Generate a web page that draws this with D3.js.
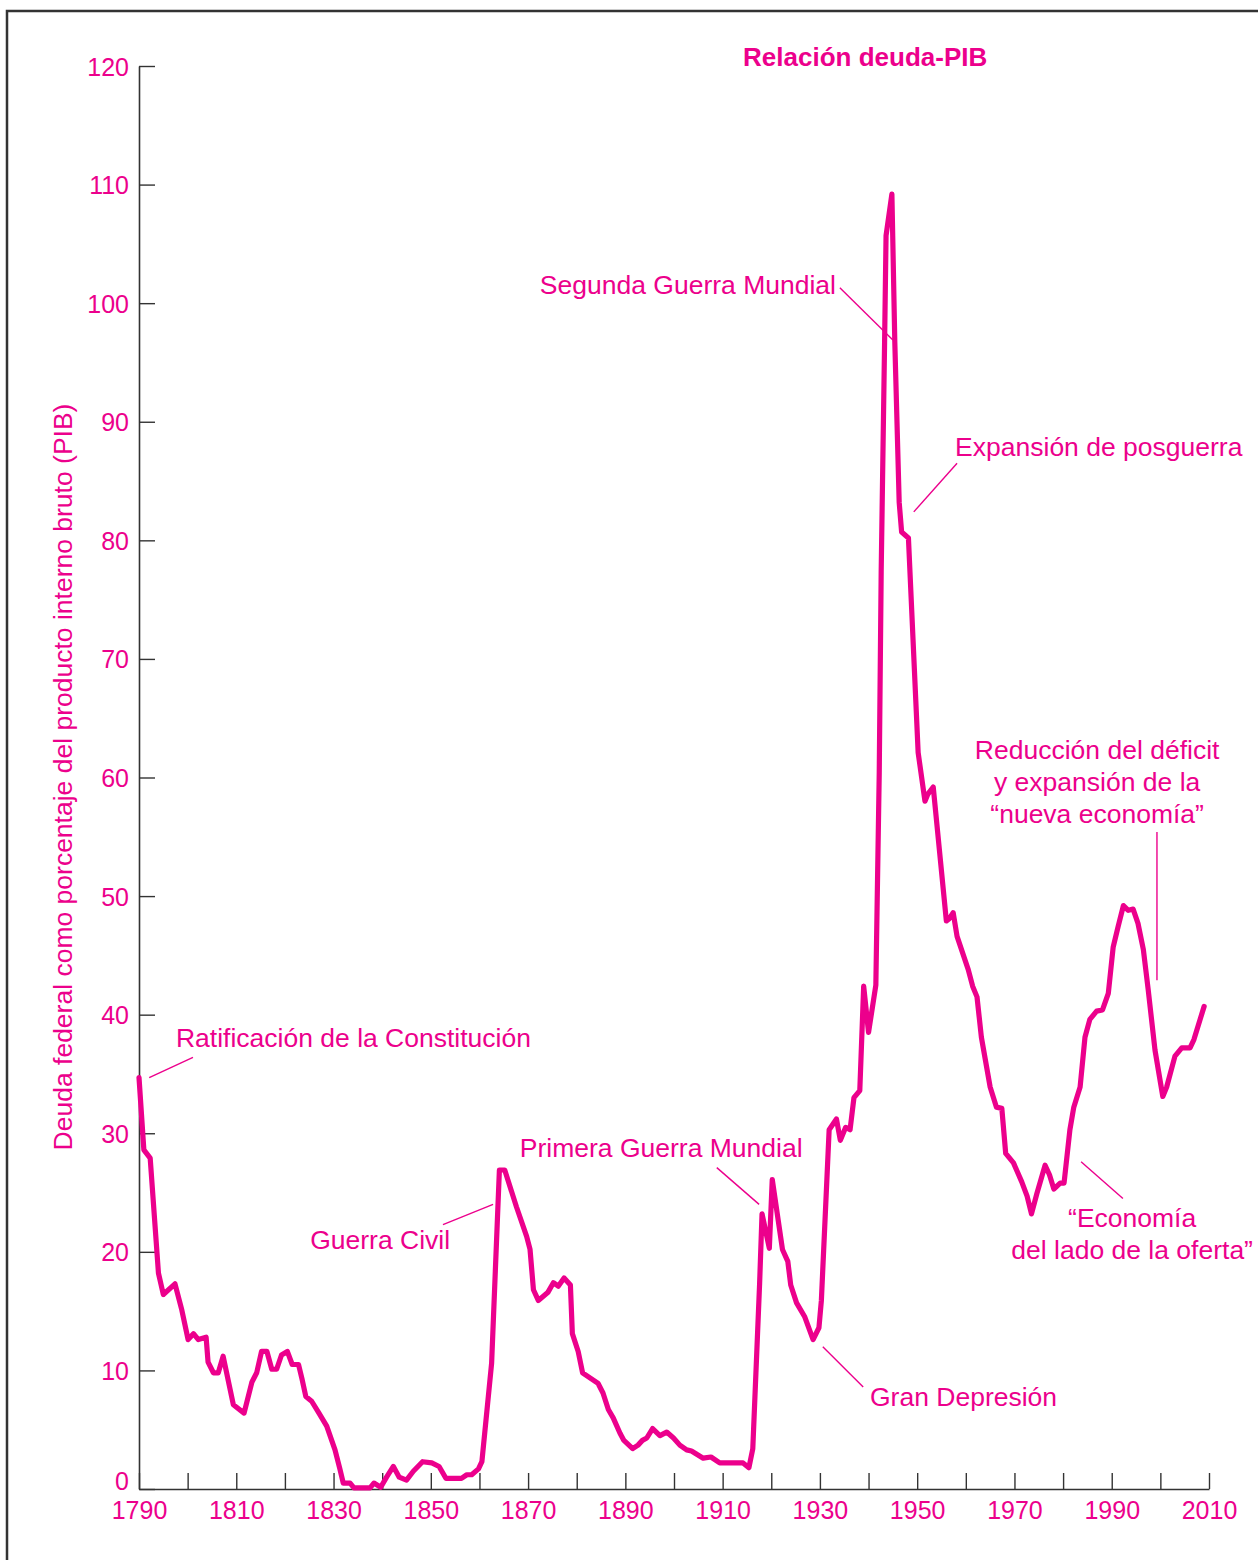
<!DOCTYPE html>
<html>
<head>
<meta charset="utf-8">
<script src="https://cdn.jsdelivr.net/npm/d3@7/dist/d3.min.js"></script>
<style>
  html, body { margin: 0; padding: 0; background: #fff; }
  svg { display: block; }
  text { font-family: "Liberation Sans", Arial, Helvetica, sans-serif; }
</style>
</head>
<body>
<svg id="chart" width="1258" height="1560"></svg>
<script>
// Federal debt as a percentage of GDP, 1790-2009
const years = [
  1790.0, 1791.0, 1792.3, 1794.0, 1795.0, 1797.4, 1798.8, 1800.1, 1801.2, 1802.2,
  1803.8, 1804.2, 1805.3, 1806.3, 1807.3, 1809.4, 1811.6, 1813.2, 1814.2, 1815.2,
  1816.3, 1817.3, 1818.3, 1819.3, 1820.5, 1821.5, 1822.8, 1823.5, 1824.3, 1825.5,
  1827.0, 1828.6, 1830.3, 1831.3, 1832.0, 1833.4, 1834.2, 1837.5, 1838.3, 1839.7,
  1840.9, 1842.3, 1843.5, 1845.0, 1846.4, 1848.3, 1850.2, 1851.7, 1853.1, 1856.3,
  1857.4, 1858.4, 1859.8, 1860.5, 1862.5, 1864.1, 1865.2, 1867.6, 1869.7, 1870.4,
  1871.1, 1872.1, 1874.1, 1875.2, 1876.2, 1877.4, 1878.7, 1879.1, 1880.3, 1881.2,
  1884.4, 1885.4, 1886.5, 1887.5, 1888.9, 1889.7, 1891.5, 1892.6, 1893.5, 1894.4,
  1895.6, 1897.1, 1898.5, 1899.9, 1901.2, 1902.6, 1903.6, 1906.0, 1907.6, 1909.4,
  1914.2, 1915.4, 1916.2, 1917.6, 1918.1, 1919.6, 1920.2, 1922.3, 1923.4, 1924.0,
  1925.2, 1926.9, 1928.6, 1929.8, 1930.3, 1931.9, 1933.4, 1934.2, 1935.3, 1936.2,
  1937.0, 1938.2, 1939.0, 1940.0, 1941.5, 1942.2, 1942.6, 1943.3, 1943.6, 1944.8,
  1945.4, 1946.3, 1946.8, 1948.2, 1950.2, 1951.6, 1952.2, 1953.3, 1956.0, 1956.6,
  1957.4, 1958.2, 1960.5, 1961.4, 1962.3, 1963.2, 1965.0, 1966.3, 1967.4, 1968.2,
  1969.8, 1971.5, 1972.6, 1973.5, 1974.6, 1976.3, 1977.2, 1978.1, 1979.4, 1980.2,
  1981.4, 1982.2, 1983.5, 1984.5, 1985.5, 1986.9, 1988.1, 1989.3, 1990.3, 1991.3,
  1992.4, 1993.4, 1994.4, 1995.4, 1996.5, 1997.5, 1998.9, 2000.5, 2001.3, 2003.0,
  2004.4, 2006.1, 2006.9, 2009.0
];
const debtRatio = [
  34.7, 28.6, 27.9, 18.2, 16.4, 17.3, 15.1, 12.6, 13.1, 12.6,
  12.8, 10.7, 9.8, 9.8, 11.2, 7.1, 6.4, 9.0, 9.8, 11.6,
  11.6, 10.1, 10.1, 11.3, 11.6, 10.5, 10.5, 9.3, 7.8, 7.4,
  6.4, 5.3, 3.3, 1.7, 0.5, 0.5, 0.1, 0.1, 0.5, 0.15,
  1.0, 1.9, 1.0, 0.75, 1.5, 2.3, 2.2, 1.9, 0.9, 0.9,
  1.2, 1.2, 1.7, 2.3, 10.6, 26.9, 26.9, 23.8, 21.3, 20.2,
  16.8, 15.9, 16.6, 17.4, 17.1, 17.8, 17.2, 13.1, 11.6, 9.8,
  8.9, 8.1, 6.7, 6.0, 4.7, 4.1, 3.4, 3.7, 4.1, 4.3,
  5.1, 4.5, 4.8, 4.3, 3.7, 3.3, 3.2, 2.6, 2.7, 2.2,
  2.2, 1.8, 3.4, 17.3, 23.2, 20.3, 26.1, 20.2, 19.2, 17.2,
  15.7, 14.5, 12.6, 13.6, 15.9, 30.3, 31.2, 29.4, 30.5, 30.3,
  33.0, 33.6, 42.4, 38.5, 42.5, 60.4, 77.4, 96.7, 105.7, 109.2,
  96.7, 83.2, 80.7, 80.2, 62.1, 58.0, 58.6, 59.2, 47.9, 48.1,
  48.6, 46.6, 43.8, 42.4, 41.5, 38.1, 33.9, 32.2, 32.1, 28.3,
  27.5, 25.9, 24.7, 23.2, 24.9, 27.3, 26.5, 25.3, 25.8, 25.8,
  30.3, 32.2, 33.9, 38.1, 39.6, 40.3, 40.4, 41.8, 45.7, 47.4,
  49.2, 48.8, 48.9, 47.7, 45.5, 42.1, 37.0, 33.1, 33.9, 36.5,
  37.2, 37.2, 37.9, 40.7
];

const yTicks = [0, 10, 20, 30, 40, 50, 60, 70, 80, 90, 100, 110, 120];
const xTicks = [1790, 1800, 1810, 1820, 1830, 1840, 1850, 1860, 1870, 1880, 1890, 1900,
                1910, 1920, 1930, 1940, 1950, 1960, 1970, 1980, 1990, 2000, 2010];
const xLabels = [1790, 1810, 1830, 1850, 1870, 1890, 1910, 1930, 1950, 1970, 1990, 2010];

const titleText = "Relación deuda-PIB";
const yTitleText = "Deuda federal como porcentaje del producto interno bruto (PIB)";

// Event labels: text lines placed in data units, with a leader line from label to curve
const events = [
  { lines: ["Segunda Guerra Mundial"], at: [1933.3, 100.8], anchor: "end",
    leader: [[1934.1, 101.3], [1945.0, 96.9]] },
  { lines: ["Expansión de posguerra"], at: [1957.8, 87.1], anchor: "start",
    leader: [[1958.2, 86.5], [1949.3, 82.4]] },
  { lines: ["Reducción del déficit", "y expansión de la", "“nueva economía”"], at: [1987.0, 61.6], anchor: "middle",
    leader: [[1999.3, 55.4], [1999.3, 42.9]] },
  { lines: ["Ratificación de la Constitución"], at: [1797.6, 37.3], anchor: "start",
    leader: [[1801.1, 36.4], [1792.1, 34.7]] },
  { lines: ["Guerra Civil"], at: [1825.2, 20.2], anchor: "start",
    leader: [[1852.5, 22.3], [1862.8, 24.0]] },
  { lines: ["Primera Guerra Mundial"], at: [1868.3, 28.0], anchor: "start",
    leader: [[1908.8, 27.1], [1917.5, 24.0]] },
  { lines: ["Gran Depresión"], at: [1940.3, 7.0], anchor: "start",
    leader: [[1930.6, 12.0], [1938.9, 8.6]] },
  { lines: ["“Economía", "del lado de la oferta”"], at: [1994.2, 22.1], anchor: "middle",
    leader: [[1983.7, 27.6], [1992.3, 24.5]] }
];

const magenta = "#ec008c";
const axisColor = "#333";

const svg = d3.select("#chart");

// Outer frame (only the left and top edges fall inside the page)
svg.append("rect")
  .attr("x", 7).attr("y", 11)
  .attr("width", 1400).attr("height", 1700)
  .attr("fill", "none")
  .attr("stroke", axisColor)
  .attr("stroke-width", 2.5);

const x = d3.scaleLinear().domain([1790, 2010]).range([139, 1209]);
const y = d3.scaleLinear().domain([0, 120]).range([1489, 66]);

// Axes with ticks pointing into the plot
const yAxis = d3.axisLeft(y)
  .tickValues(yTicks)
  .tickSizeInner(-16)
  .tickSizeOuter(0)
  .tickPadding(10)
  .tickFormat(d3.format("d"));

const xAxis = d3.axisBottom(x)
  .tickValues(xTicks)
  .tickSizeInner(-16)
  .tickSizeOuter(0)
  .tickPadding(12)
  .tickFormat(d => xLabels.includes(d) ? String(d) : "");

const gy = svg.append("g").attr("transform", `translate(${x(1790)},0)`).call(yAxis);
const gx = svg.append("g").attr("transform", `translate(0,${y(0)})`).call(xAxis);

[gx, gy].forEach(g => {
  g.select(".domain").attr("stroke", axisColor).attr("stroke-width", 1.6);
  g.selectAll(".tick line").attr("stroke", axisColor).attr("stroke-width", 1.4);
  g.selectAll(".tick text")
    .attr("fill", magenta)
    .style("font-size", "25px")
    .style("font-family", '"Liberation Sans", Arial, Helvetica, sans-serif');
});
// vertical centring of the value labels; the zero label sits a little higher,
// clear of the first year label below it
gy.selectAll(".tick text").attr("dy", d => d === 0 ? "0.03em" : "0.36em");

// Debt ratio curve
const points = years.map((yr, i) => [yr, debtRatio[i]]);
const line = d3.line()
  .x(d => x(d[0]))
  .y(d => y(d[1]))
  .curve(d3.curveLinear);

svg.append("path")
  .datum(points)
  .attr("d", line)
  .attr("fill", "none")
  .attr("stroke", magenta)
  .attr("stroke-width", 5.2)
  .attr("stroke-linejoin", "round")
  .attr("stroke-linecap", "round");

// Title
svg.append("text")
  .attr("x", x(1939.3))
  .attr("y", y(120))
  .attr("text-anchor", "middle")
  .attr("fill", magenta)
  .style("font-size", "26px")
  .style("font-weight", "bold")
  .text(titleText);

// Vertical axis title
svg.append("text")
  .attr("transform", `translate(72,777) rotate(-90)`)
  .attr("text-anchor", "middle")
  .attr("fill", magenta)
  .style("font-size", "26.5px")
  .text(yTitleText);

// Event labels and leaders
const ev = svg.append("g");
events.forEach(e => {
  ev.append("line")
    .attr("x1", x(e.leader[0][0])).attr("y1", y(e.leader[0][1]))
    .attr("x2", x(e.leader[1][0])).attr("y2", y(e.leader[1][1]))
    .attr("stroke", magenta)
    .attr("stroke-width", 1.4);
  const t = ev.append("text")
    .attr("x", x(e.at[0]))
    .attr("y", y(e.at[1]))
    .attr("text-anchor", e.anchor)
    .attr("fill", magenta)
    .style("font-size", "26.5px");
  e.lines.forEach((ln, i) => {
    t.append("tspan")
      .attr("x", x(e.at[0]))
      .attr("dy", i === 0 ? 0 : 32)
      .text(ln);
  });
});
</script>
</body>
</html>
